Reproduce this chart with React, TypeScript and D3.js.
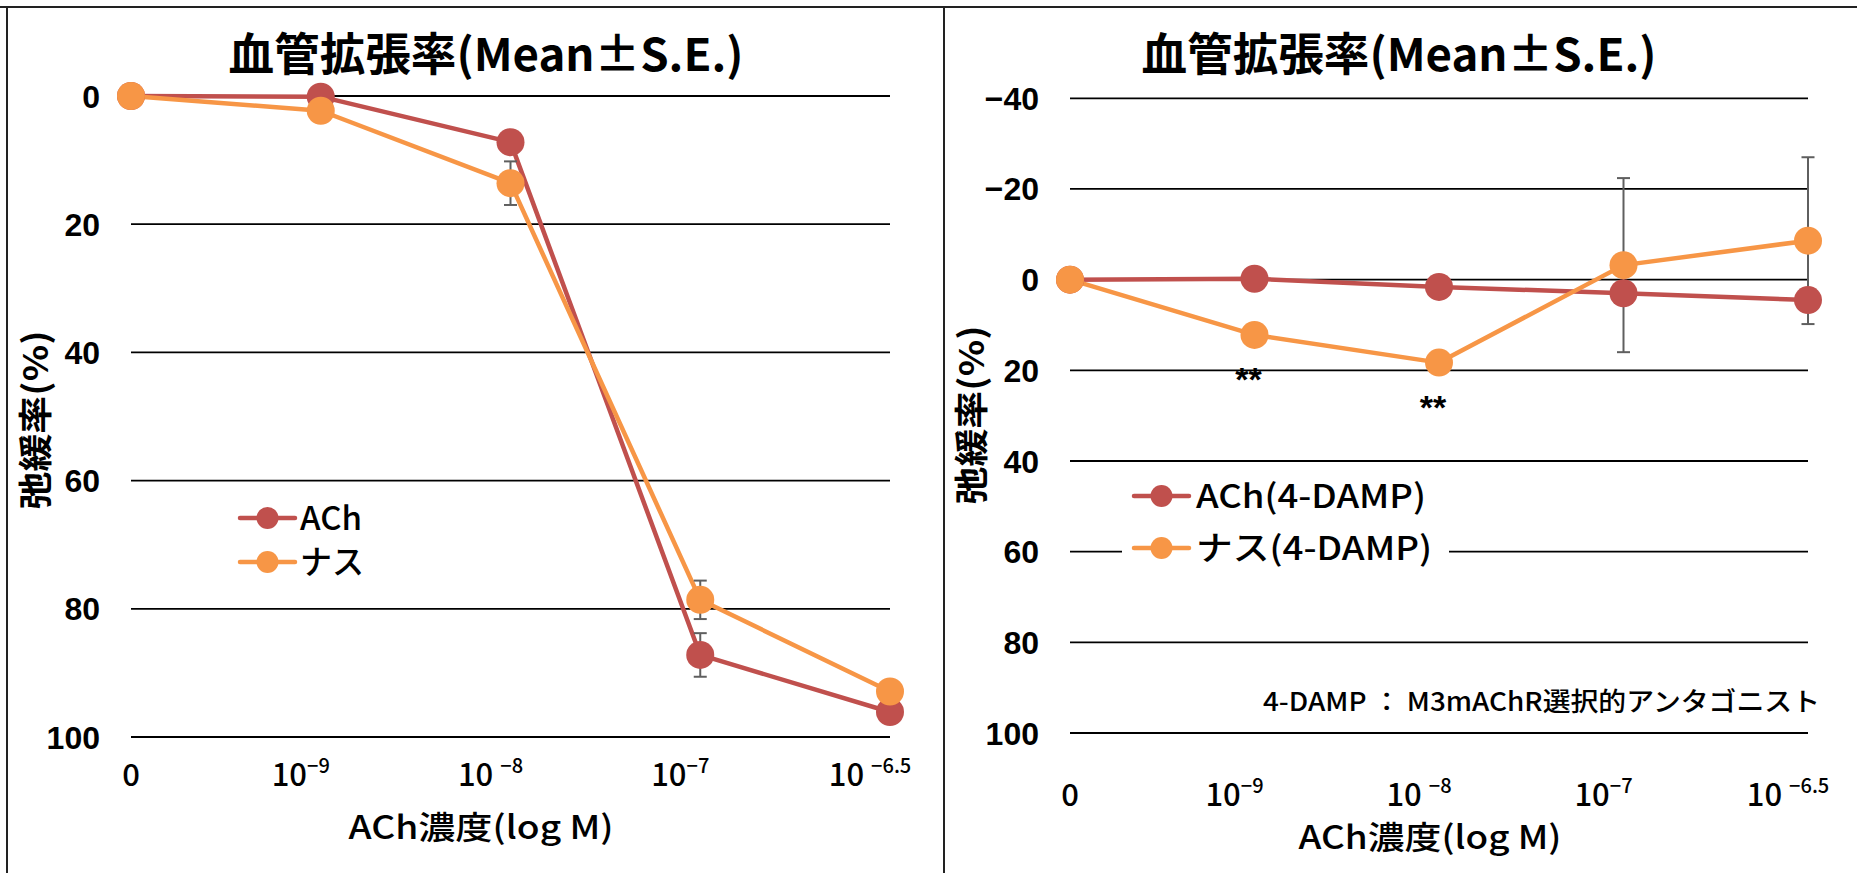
import React from 'react';
import * as d3 from 'd3';

// ---- data ----
const categories = ['0', '1e-9', '1e-8', '1e-7', '1e-6.5'];
const tickBase = ['0', '10', '10 ', '10', '10 '];
const tickSup = ['', '−9', '−8', '−7', '−6.5'];

const leftAch = [0, 0.1, 7.2, 87.2, 96.1];
const leftAchErr = [0, 0.5, 1.5, 3.4, 1.0];
const leftNasu = [0, 2.3, 13.6, 78.6, 92.9];
const leftNasuErr = [0, 0.8, 3.4, 3.0, 1.0];

const rightAch = [0, -0.2, 1.6, 3.0, 4.5];
const rightAchErr = [0, 0.8, 1.2, 2.0, 2.0];
const rightNasu = [0, 12.2, 18.3, -3.2, -8.6];
const rightNasuErr = [0, 1.5, 1.5, 19.2, 18.4];

const leftYTicks = [0, 20, 40, 60, 80, 100];
const rightYTicks = [-40, -20, 0, 20, 40, 60, 80, 100];

const titleText = '血管拡張率(Mean±S.E.)';
const yTitle = '弛緩率(%)';
const xTitle = 'ACh濃度(log M)';
const leftLegend = ['ACh', 'ナス'];
const rightLegend = ['ACh(4-DAMP)', 'ナス(4-DAMP)'];
const note = '4-DAMP ： M3mAChR選択的アンタゴニスト';
const rightSig = ['', '**', '**', '', ''];

const RED = '#C0504D';
const ORANGE = '#F79646';
const ERR = '#5f5f5f';
const JP = "'Noto Sans CJK JP', 'Noto Sans', sans-serif";
const NUM = "'Liberation Sans', Arial, sans-serif";

type PanelCfg = {
  xRange: [number, number];
  yDomain: [number, number];
  yRange: [number, number];
  yTicks: number[];
  yLabelX: number;
  titleX: number;
  yTitleX: number;
  yTitleY: number;
  xTickY: number;
  xTitleX: number;
  xTitleY: number;
  xTitleW: number;
  series: { values: number[]; errs: number[]; color: string }[];
  legend: {
    labels: string[];
    widths: number[];
    lineX: [number, number];
    ys: number[];
    textX: number;
    box: [number, number, number, number];
  };
  sig?: string[];
};

function fmtTick(v: number) {
  return v < 0 ? '−' + Math.abs(v) : String(v);
}

function Panel({ cfg }: { cfg: PanelCfg }) {
  const x = d3.scalePoint<string>().domain(categories).range(cfg.xRange).padding(0);
  const y = d3.scaleLinear().domain(cfg.yDomain).range(cfg.yRange);
  const line = d3
    .line<number>()
    .x((_, i) => x(categories[i]) as number)
    .y((d) => y(d));
  const [x0, x1] = cfg.xRange;
  return (
    <g>
      <text
        x={cfg.titleX}
        y={71}
        textAnchor="middle"
        fontFamily={JP}
        fontWeight={700}
        fontSize={45}
        textLength={515}
        lengthAdjust="spacingAndGlyphs"
      >
        {titleText}
      </text>
      {cfg.yTicks.map((t) => (
        <g key={t}>
          <line x1={x0} x2={x1} y1={y(t)} y2={y(t)} stroke="#000" strokeWidth={1.8} />
          <text
            x={cfg.yLabelX}
            y={y(t)}
            dy="0.36em"
            textAnchor="end"
            fontFamily={NUM}
            fontWeight={700}
            fontSize={32}
          >
            {fmtTick(t)}
          </text>
        </g>
      ))}
      <text
        transform={`translate(${cfg.yTitleX},${cfg.yTitleY}) rotate(-90)`}
        textAnchor="middle"
        dy="0.36em"
        fontFamily={JP}
        fontWeight={700}
        fontSize={34}
        textLength={179}
        lengthAdjust="spacingAndGlyphs"
      >
        {yTitle}
      </text>
      {categories.map((c, i) => (
        <text
          key={c}
          x={(x(c) as number) + (i === 0 ? 0 : -20)}
          y={cfg.xTickY}
          textAnchor="middle"
          fontFamily={JP}
          fontWeight={500}
          fontSize={31}
        >
          <tspan>{tickBase[i]}</tspan>
          {tickSup[i] && (
            <tspan dy={-13} fontSize={20}>
              {tickSup[i]}
            </tspan>
          )}
        </text>
      ))}
      <text
        x={cfg.xTitleX}
        y={cfg.xTitleY}
        textAnchor="middle"
        fontFamily={JP}
        fontWeight={500}
        fontSize={32}
        textLength={cfg.xTitleW}
        lengthAdjust="spacingAndGlyphs"
      >
        {xTitle}
      </text>
      {/* lines */}
      {cfg.series.map((s, si) => (
        <path key={si} d={line(s.values) || ''} fill="none" stroke={s.color} strokeWidth={4.5} strokeLinejoin="round" />
      ))}
      {/* error bars */}
      {cfg.series.map((s, si) =>
        s.values.map((v, i) => {
          const e = s.errs[i];
          if (!e) return null;
          const cx = x(categories[i]) as number;
          const yt = y(v - e);
          const yb = y(v + e);
          return (
            <g key={`${si}-${i}`} stroke={ERR} strokeWidth={2}>
              <line x1={cx} x2={cx} y1={yt} y2={yb} />
              <line x1={cx - 6.5} x2={cx + 6.5} y1={yt} y2={yt} />
              <line x1={cx - 6.5} x2={cx + 6.5} y1={yb} y2={yb} />
            </g>
          );
        })
      )}
      {/* markers */}
      {cfg.series.map((s, si) =>
        s.values.map((v, i) => (
          <circle key={`m${si}-${i}`} cx={x(categories[i]) as number} cy={y(v)} r={14} fill={s.color} />
        ))
      )}
      {cfg.sig &&
        cfg.sig.map((m, i) =>
          m ? (
            <text
              key={`s${i}`}
              x={(x(categories[i]) as number) - 6}
              y={y(Math.max(cfg.series[0].values[i], cfg.series[1].values[i])) + 56}
              textAnchor="middle"
              fontFamily={NUM}
              fontWeight={700}
              fontSize={34}
            >
              {m}
            </text>
          ) : null
        )}
      {/* legend */}
      <rect
        x={cfg.legend.box[0]}
        y={cfg.legend.box[1]}
        width={cfg.legend.box[2]}
        height={cfg.legend.box[3]}
        fill="#fff"
      />
      {cfg.legend.labels.map((l, i) => {
        const ly = cfg.legend.ys[i];
        const [lx0, lx1] = cfg.legend.lineX;
        return (
          <g key={l}>
            <line x1={lx0} x2={lx1} y1={ly} y2={ly} stroke={cfg.series[i].color} strokeWidth={4.5} strokeLinecap="round" />
            <circle cx={(lx0 + lx1) / 2} cy={ly} r={11} fill={cfg.series[i].color} />
            <text
              x={cfg.legend.textX}
              y={ly}
              dy="0.36em"
              fontFamily={JP}
              fontWeight={500}
              fontSize={33}
              textLength={cfg.legend.widths[i]}
              lengthAdjust="spacingAndGlyphs"
            >
              {l}
            </text>
          </g>
        );
      })}
    </g>
  );
}

const leftCfg: PanelCfg = {
  xRange: [131, 890],
  yDomain: [0, 100],
  yRange: [96, 737],
  yTicks: leftYTicks,
  yLabelX: 100,
  titleX: 486,
  yTitleX: 36,
  yTitleY: 420,
  xTickY: 786,
  xTitleX: 481,
  xTitleY: 839,
  xTitleW: 265,
  series: [
    { values: leftAch, errs: leftAchErr, color: RED },
    { values: leftNasu, errs: leftNasuErr, color: ORANGE },
  ],
  legend: {
    labels: leftLegend,
    widths: [62, 64],
    lineX: [240, 295],
    ys: [518, 562],
    textX: 300,
    box: [228, 492, 150, 96],
  },
};

const rightCfg: PanelCfg = {
  xRange: [1070, 1808],
  yDomain: [-40, 100],
  yRange: [98.3, 733],
  yTicks: rightYTicks,
  yLabelX: 1039,
  titleX: 1399,
  yTitleX: 972,
  yTitleY: 415,
  xTickY: 806,
  xTitleX: 1430,
  xTitleY: 849,
  xTitleW: 263,
  series: [
    { values: rightAch, errs: rightAchErr, color: RED },
    { values: rightNasu, errs: rightNasuErr, color: ORANGE },
  ],
  legend: {
    labels: rightLegend,
    widths: [230, 236],
    lineX: [1134, 1189],
    ys: [496, 548],
    textX: 1196,
    box: [1122, 470, 327, 105],
  },
  sig: rightSig,
};

export default function App() {
  return (
    <svg width={1857} height={873} style={{ position: 'absolute', left: 0, top: 0, background: '#fff' }}>
      <rect x={0} y={0} width={1857} height={873} fill="#fff" />
      <line x1={0} x2={1857} y1={7} y2={7} stroke="#222" strokeWidth={2} />
      <line x1={7} x2={7} y1={7} y2={873} stroke="#222" strokeWidth={2} />
      <line x1={944} x2={944} y1={7} y2={873} stroke="#222" strokeWidth={2} />
      <Panel cfg={leftCfg} />
      <Panel cfg={rightCfg} />
      <text
        x={1263}
        y={711}
        fontFamily={JP}
        fontWeight={500}
        fontSize={26}
        textLength={557}
        lengthAdjust="spacingAndGlyphs"
      >
        {note}
      </text>
    </svg>
  );
}
